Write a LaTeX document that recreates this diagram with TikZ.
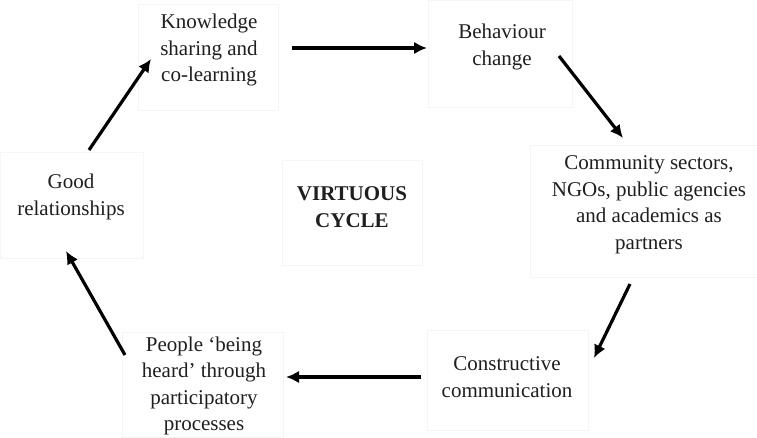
\documentclass[tikz,border=0pt]{standalone}
\usepackage{fontspec}
\setmainfont{Liberation Serif}
\usetikzlibrary{arrows.meta}
\begin{document}
\begin{tikzpicture}[x=1pt,y=-1pt,
  frame/.style={draw=black!4, line width=0.8pt, fill=white},
  label/.style={align=center, font=\fontsize{21}{26.5}\selectfont, text=black!88, inner sep=0pt},
  conn/.style={line width=3.2pt, -{Latex[length=13pt,width=12.5pt]}}]
\useasboundingbox[fill=white] (0,0) rectangle (757,437);
% faint frames
\draw[frame] (138,4) rectangle (278,110);
\draw[frame] (428,0) rectangle (572,107);
\draw[frame] (530,145) rectangle (757,277);
\draw[frame] (427,330) rectangle (588,430);
\draw[frame] (122,332) rectangle (283,437);
\draw[frame] (0,152) rectangle (143,258);
\draw[frame] (282,160) rectangle (422,265);
% texts
\node[label] (know) at (209,50) {Knowledge\\sharing and\\co-learning};
\node[label] (behav) at (502,47) {Behaviour\\change};
\node[label] (comm) at (649,205) {Community sectors,\\NGOs, public agencies\\and academics as\\partners};
\node[label] (cons) at (507,377) {Constructive\\communication};
\node[label] (peop) at (204,386) {People `being\\heard' through\\participatory\\processes};
\node[label] (good) at (71,197) {Good\\relationships};
\node[label, font=\fontsize{21}{26.5}\selectfont\bfseries] (virt) at (352,207) {VIRTUOUS\\CYCLE};
% connector ends
\coordinate (k1) at (292,48);
\coordinate (b0) at (427,48);
\coordinate (b1) at (559,56);
\coordinate (c0) at (623,138);
\coordinate (c1) at (630,284);
\coordinate (d0) at (594,358);
\coordinate (d1) at (421,377);
\coordinate (p0) at (286,377);
\coordinate (p1) at (125,355);
\coordinate (g0) at (66,251);
\coordinate (g1) at (89,150);
\coordinate (k0) at (151,59);
\draw[conn] (k1) -- (b0);
\draw[conn] (b1) -- (c0);
\draw[conn] (c1) -- (d0);
\draw[conn] (d1) -- (p0);
\draw[conn] (p1) -- (g0);
\draw[conn] (g1) -- (k0);
\end{tikzpicture}
\end{document}
